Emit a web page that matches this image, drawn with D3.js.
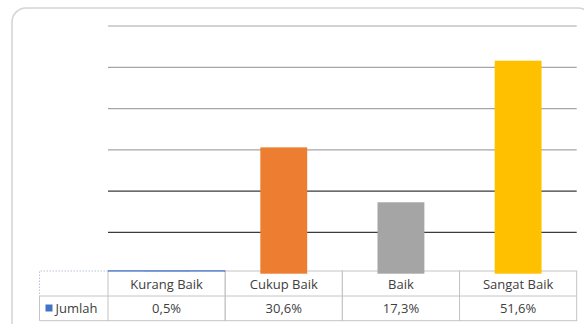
<!DOCTYPE html>
<html>
<head>
<meta charset="utf-8">
<script src="https://cdn.jsdelivr.net/npm/d3@7"></script>
<style>
  body { margin: 0; background: #fff; }
  svg { display: block; font-family: "Open Sans", "Noto Sans", sans-serif; }
</style>
</head>
<body>
<svg id="chart" width="584" height="324"></svg>
<script>
const categories = ['Kurang Baik', 'Cukup Baik', 'Baik', 'Sangat Baik'];
const values = [0.5, 30.6, 17.3, 51.6];
const valueLabels = ['0,5%', '30,6%', '17,3%', '51,6%'];
const barColors = ['#4472C4', '#ED7D31', '#A5A5A5', '#FFC000'];
const gridTicks = [10, 20, 30, 40, 50, 60];
const seriesName = 'Jumlah';

const svg = d3.select('#chart');

// plot area
const plotLeft = 108, plotRight = 576.7;
const plotBase = 273.7, plotTop = 26;
const tableTop = 271, rowMid = 296, tableBottom = 320.7, tableLeft = 39.5;

const x = d3.scaleBand()
  .domain(categories)
  .range([plotLeft, plotRight])
  .paddingInner(0.6)
  .paddingOuter(0.3);

const y = d3.scaleLinear()
  .domain([0, 60])
  .range([plotBase, plotTop]);

// outer rounded frame
svg.append('rect')
  .attr('x', 12).attr('y', 8)
  .attr('width', 580).attr('height', 340)
  .attr('rx', 14)
  .attr('fill', 'none')
  .attr('stroke', '#d4d4d4')
  .attr('stroke-width', 1.5);

// gridlines
svg.append('g')
  .selectAll('line')
  .data(gridTicks)
  .join('line')
  .attr('x1', plotLeft).attr('x2', plotRight)
  .attr('y1', d => y(d)).attr('y2', d => y(d))
  .attr('stroke', d => d <= 20 ? '#3a3a3a' : '#a6a6a6')
  .attr('stroke-width', 1.2);

// data table
const table = svg.append('g');
const step = x.step();
const cellX = categories.map((c, i) => plotLeft + i * step);

// column cells
categories.forEach((c, i) => {
  table.append('rect')
    .attr('x', cellX[i]).attr('y', tableTop)
    .attr('width', step).attr('height', tableBottom - tableTop)
    .attr('fill', 'none')
    .attr('stroke', '#c4c4c4')
    .attr('stroke-width', 1);
});
table.append('line')
  .attr('x1', plotLeft).attr('x2', plotRight)
  .attr('y1', rowMid).attr('y2', rowMid)
  .attr('stroke', '#c4c4c4');

// left header cell (dotted top/left) and row label cell
table.append('path')
  .attr('d', `M${plotLeft},${tableTop}H${tableLeft}V${rowMid}`)
  .attr('fill', 'none')
  .attr('stroke', '#b8c4d8')
  .attr('stroke-dasharray', '1.5,1.5');
table.append('path')
  .attr('d', `M${tableLeft},${rowMid}V${tableBottom}H${plotLeft}M${tableLeft},${rowMid}H${plotLeft}`)
  .attr('fill', 'none')
  .attr('stroke', '#c4c4c4');

// bars
svg.append('g')
  .selectAll('rect')
  .data(values)
  .join('rect')
  .attr('x', (d, i) => x(categories[i]))
  .attr('width', x.bandwidth())
  .attr('y', d => y(d))
  .attr('height', d => plotBase - y(d))
  .attr('fill', (d, i) => barColors[i]);

// selected cell top border (hides the tiny first bar like the original)
svg.append('line')
  .attr('x1', cellX[0]).attr('x2', cellX[0] + step)
  .attr('y1', tableTop).attr('y2', tableTop)
  .attr('stroke', '#4a78c8')
  .attr('stroke-width', 1.5);
svg.append('rect')
  .attr('x', cellX[0] + 1).attr('y', tableTop + 0.8)
  .attr('width', step - 2).attr('height', 3)
  .attr('fill', '#fff');

// table text
table.selectAll('text.cat')
  .data(categories)
  .join('text')
  .attr('class', 'cat')
  .attr('x', d => x(d) + x.bandwidth() / 2)
  .attr('y', 288.5)
  .attr('text-anchor', 'middle')
  .attr('font-size', 13)
  .attr('fill', '#404040')
  .text(d => d);

table.selectAll('text.val')
  .data(valueLabels)
  .join('text')
  .attr('class', 'val')
  .attr('x', (d, i) => x(categories[i]) + x.bandwidth() / 2)
  .attr('y', 313)
  .attr('text-anchor', 'middle')
  .attr('font-size', 13)
  .attr('fill', '#404040')
  .text(d => d);

// legend key
table.append('rect')
  .attr('x', 45.5).attr('y', 304.5)
  .attr('width', 7).attr('height', 7)
  .attr('fill', barColors[0]);
table.append('text')
  .attr('x', 55.5).attr('y', 313)
  .attr('font-size', 13)
  .attr('fill', '#404040')
  .text(seriesName);
</script>
</body>
</html>
